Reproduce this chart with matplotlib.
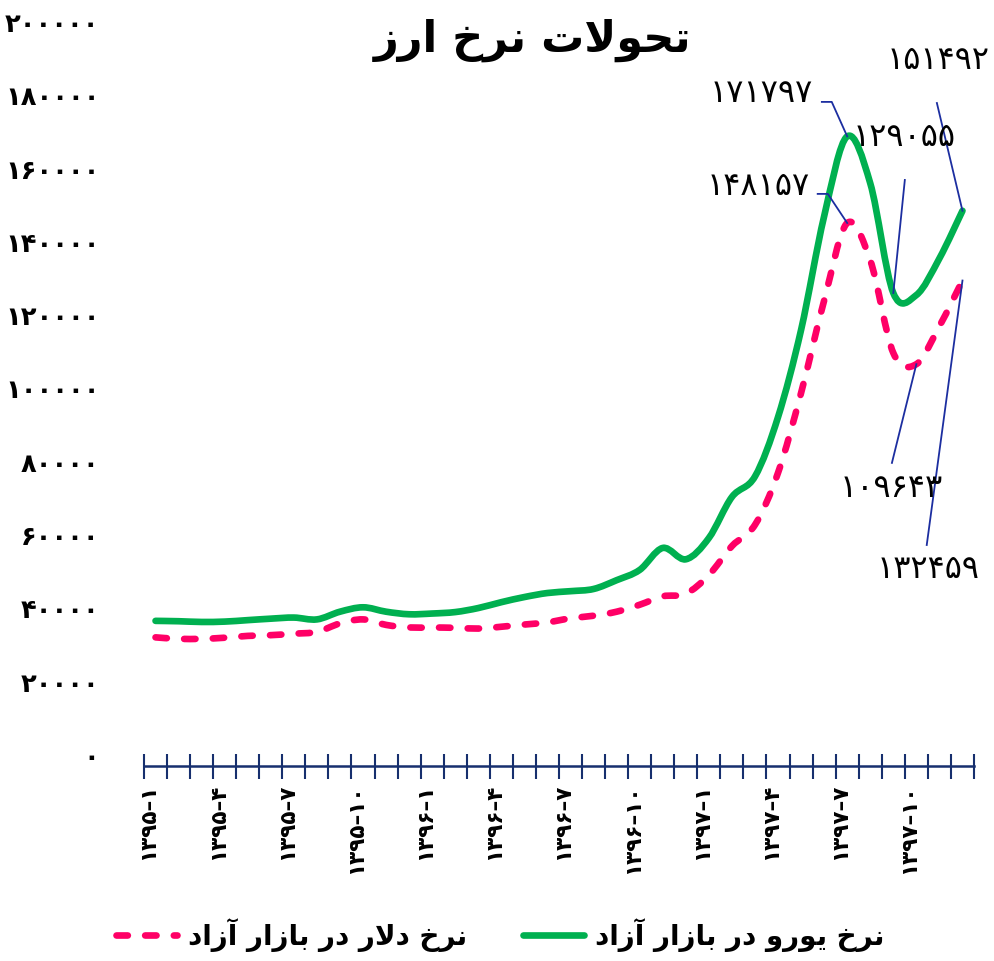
import numpy as np
import matplotlib
matplotlib.use('Agg')
import matplotlib.pyplot as plt
from matplotlib.path import Path
from matplotlib.patches import PathPatch
from matplotlib.lines import Line2D
from matplotlib.transforms import ScaledTranslation

# ==========================================
# DATA (monthly free-market rates, 1395-1 .. 1397-12)
# ==========================================
euro = [39600, 39500, 39300, 39400, 39800, 40200, 40500, 40000, 42100, 43300,
        42100, 41400, 41600, 42000, 43100, 44700, 46100, 47200, 47700, 48300,
        50700, 53500, 59500, 56400, 62200, 73400, 79000, 95200, 119000, 150000,
        171797, 159000, 129055, 128500, 138500, 151492]
dollar = [35100, 34700, 34700, 35000, 35500, 35700, 36100, 36600, 38900, 40000,
          38500, 37800, 37800, 37700, 37500, 38000, 38600, 39200, 40300, 41000,
          42100, 44000, 46300, 47000, 52100, 60000, 65800, 80000, 101800, 127000,
          148157, 138000, 112700, 109643, 120000, 132459]
x_labels = ['۱۳۹۵–۱', '۱۳۹۵–۴', '۱۳۹۵–۷', '۱۳۹۵–۱۰', '۱۳۹۶–۱', '۱۳۹۶–۴',
            '۱۳۹۶–۷', '۱۳۹۶–۱۰', '۱۳۹۷–۱', '۱۳۹۷–۴', '۱۳۹۷–۷', '۱۳۹۷–۱۰']
y_ticks = [0, 20000, 40000, 60000, 80000, 100000, 120000, 140000, 160000, 180000, 200000]

title = 'تحولات نرخ ارز'
euro_name = 'نرخ یورو در بازار آزاد'
dollar_name = 'نرخ دلار در بازار آزاد'

# labelled points: (series, index)
labelled = [('euro', 30), ('dollar', 30), ('euro', 32), ('euro', 35), ('dollar', 33), ('dollar', 35)]

# ==========================================
# ARABIC SHAPING (matplotlib has no text shaping)
# ==========================================
DUAL = {'ب': (0xFE8F, 0xFE90, 0xFE91, 0xFE92), 'ت': (0xFE95, 0xFE96, 0xFE97, 0xFE98),
        'ح': (0xFEA1, 0xFEA2, 0xFEA3, 0xFEA4), 'خ': (0xFEA5, 0xFEA6, 0xFEA7, 0xFEA8),
        'ل': (0xFEDD, 0xFEDE, 0xFEDF, 0xFEE0), 'ن': (0xFEE5, 0xFEE6, 0xFEE7, 0xFEE8),
        'ی': (0xFBFC, 0xFBFD, 0xFEF3, 0xFEF4)}
RIGHT = {'ا': (0xFE8D, 0xFE8E), 'آ': (0xFE81, 0xFE82), 'د': (0xFEA9, 0xFEAA),
         'ر': (0xFEAD, 0xFEAE), 'ز': (0xFEAF, 0xFEB0), 'و': (0xFEED, 0xFEEE),
         'LA': (0xFEFB, 0xFEFC), 'LAA': (0xFEF5, 0xFEF6)}


def shape(text):
    chars, i = [], 0
    while i < len(text):
        if text[i] == 'ل' and i + 1 < len(text) and text[i + 1] in 'اآ':
            chars.append('LA' if text[i + 1] == 'ا' else 'LAA')
            i += 2
        else:
            chars.append(text[i])
            i += 1
    out = []
    for k, c in enumerate(chars):
        prev = chars[k - 1] if k > 0 else None
        nxt = chars[k + 1] if k + 1 < len(chars) else None
        jp = prev in DUAL
        if c in DUAL:
            jn = nxt in DUAL or nxt in RIGHT
            form = 3 if (jp and jn) else 1 if jp else 2 if jn else 0
            out.append(chr(DUAL[c][form]))
        elif c in RIGHT:
            out.append(chr(RIGHT[c][1 if jp else 0]))
        else:
            out.append(c)
    return ''.join(reversed(out))


def fa(n):
    return str(n).translate(str.maketrans('0123456789', '۰۱۲۳۴۵۶۷۸۹'))


def smooth_path(xs, ys):
    # Excel-style smoothed line: Catmull-Rom segments as cubic Beziers
    pts = np.column_stack([xs, ys]).astype(float)
    p = np.vstack([pts[0], pts, pts[-1]])
    verts, codes = [pts[0]], [Path.MOVETO]
    for i in range(1, len(p) - 2):
        c1 = p[i] + (p[i + 1] - p[i - 1]) / 6
        c2 = p[i + 1] - (p[i + 2] - p[i]) / 6
        verts += [c1, c2, p[i + 1]]
        codes += [Path.CURVE4] * 3
    return Path(verts, codes)


GREEN = '#00b050'
PINK = '#ff0066'
NAVY = '#172f6e'
LEAD = '#1c2ea0'
LW = 4.8
DASH = (0, (1.7, 2.6))

plt.rcParams['font.family'] = 'DejaVu Sans'
plt.rcParams['font.weight'] = 'bold'

fig = plt.figure(figsize=(9.95, 9.61), dpi=100)
ax = fig.add_axes([144 / 995, 1 - 766 / 961, 830 / 995, 733 / 961])

x = np.arange(len(euro))
ax.add_patch(PathPatch(smooth_path(x, euro), fill=False, edgecolor=GREEN, lw=LW,
                       capstyle='round', joinstyle='round', zorder=3))
ax.add_patch(PathPatch(smooth_path(x, dollar), fill=False, edgecolor=PINK, lw=LW,
                       linestyle=DASH, capstyle='round', joinstyle='round', zorder=3))

ax.set_xlim(-0.5, len(euro) - 0.5)
ax.set_ylim(0, 200000)

for s in ['left', 'top', 'right']:
    ax.spines[s].set_visible(False)
ax.spines['bottom'].set_color(NAVY)
ax.spines['bottom'].set_linewidth(1.8)

ax.set_xticks(np.arange(0, len(euro), 3))
ax.set_xticklabels(x_labels, rotation=90, fontsize=15.5, fontweight='bold', va='top', ha='center')
ax.set_xticks(np.arange(-0.5, len(euro), 1), minor=True)
ax.tick_params(axis='x', which='major', length=0, pad=13)
ax.tick_params(axis='x', which='minor', direction='inout', length=18, width=1.5, color=NAVY)
for lab in ax.get_xticklabels():
    lab.set_transform(lab.get_transform() + ScaledTranslation(-0.07, 0, fig.dpi_scale_trans))

ax.set_yticks(y_ticks)
ax.set_yticklabels([fa(v) for v in y_ticks], fontsize=18.5, fontweight='bold')
ax.tick_params(axis='y', length=0, pad=32)
for lab in ax.get_yticklabels():
    lab.set_transform(lab.get_transform() + ScaledTranslation(0, 0.11, fig.dpi_scale_trans))

# value call-outs with leader lines
series = {'euro': euro, 'dollar': dollar}
text_pos = [(28.52, 183400, 'right'), (28.38, 158000, 'right'), (30.25, 171600, 'left'),
            (31.72, 192600, 'left'), (29.68, 75600, 'left'), (31.29, 53500, 'left')]
lead_pts = [[(28.9, 181200), (29.33, 181200)], [(28.72, 156100), (29.16, 156100)],
            [(32.5, 159900)], [(33.89, 180900)], [(31.94, 82700)], [(33.45, 60300)]]
for (name, idx), (tx, ty, ha), lp in zip(labelled, text_pos, lead_pts):
    v = series[name][idx]
    ax.text(tx, ty, fa(v), fontsize=23, fontweight='normal', ha=ha, va='center', zorder=5)
    lx = [p[0] for p in lp] + [idx]
    ly = [p[1] for p in lp] + [v]
    ax.plot(lx, ly, color=LEAD, lw=1.3, zorder=4, clip_on=False)

fig.text(533 / 995, 1 - 40 / 961, shape(title), fontsize=31, fontweight='bold', ha='center', va='center')

handles = [Line2D([], [], color=PINK, lw=LW, linestyle=DASH, dash_capstyle='round'),
           Line2D([], [], color=GREEN, lw=LW, solid_capstyle='round')]
fig.legend(handles, [shape(dollar_name), shape(euro_name)], loc='center', ncol=2,
           bbox_to_anchor=(500 / 995, 1 - 935 / 961), frameon=False,
           handlelength=2.2, columnspacing=2.0, handletextpad=0.4,
           prop={'weight': 'bold', 'size': 20})

fig.savefig('out.png', dpi=100)
